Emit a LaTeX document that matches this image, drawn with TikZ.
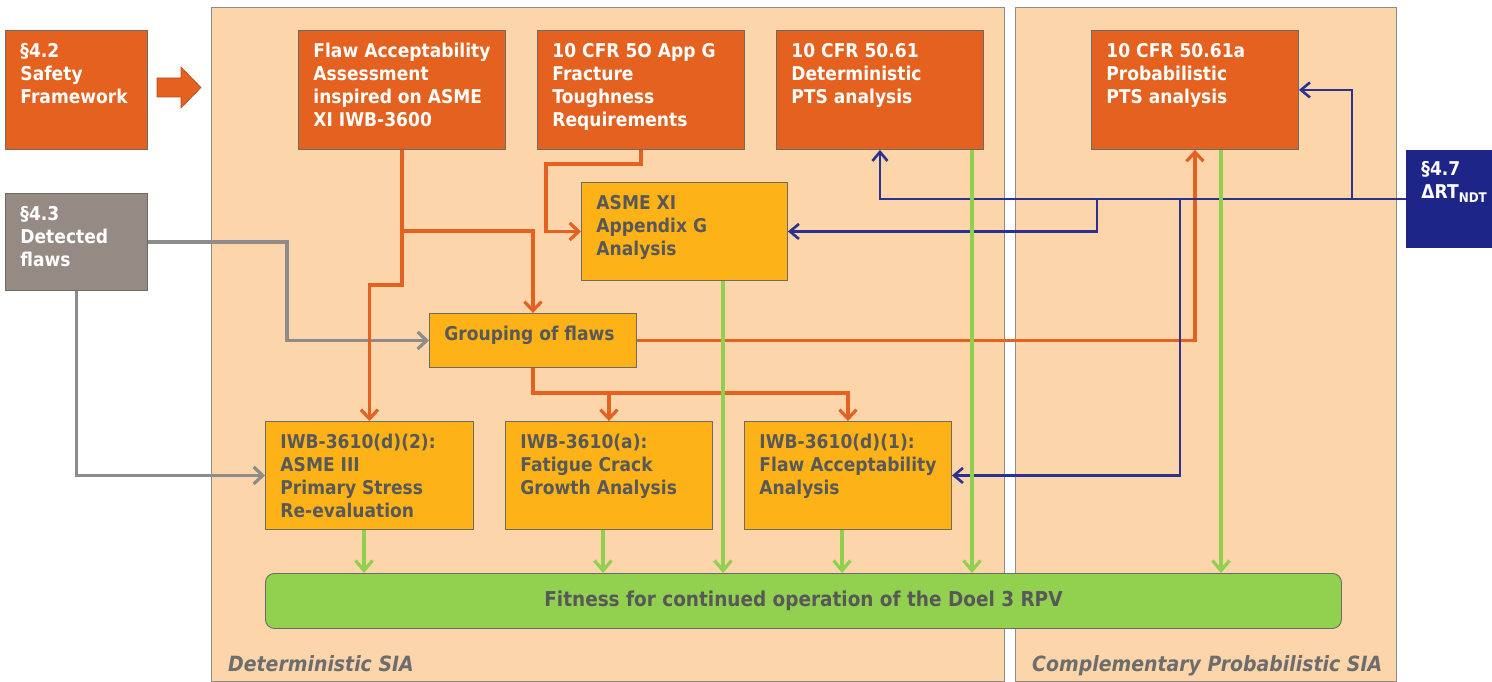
\documentclass[tikz,border=0pt]{standalone}
\usepackage{fontspec}
\setmainfont{DejaVu Sans}[FakeStretch=0.9]
\usetikzlibrary{arrows.meta}
\definecolor{peach}{HTML}{FCD5AA}
\definecolor{orng}{HTML}{E4611F}
\definecolor{yel}{HTML}{FDB317}
\definecolor{gbox}{HTML}{958B84}
\definecolor{nblue}{HTML}{1D2688}
\definecolor{lblue}{HTML}{2B3190}
\definecolor{grn}{HTML}{92D050}
\definecolor{gline}{HTML}{8FD14F}
\definecolor{bord}{HTML}{6E6A66}
\definecolor{pbord}{HTML}{8C8C8C}
\definecolor{txtd}{HTML}{585858}
\definecolor{plab}{HTML}{6D6D6D}
\definecolor{gcon}{HTML}{8E8B88}
\newcommand\bt[3]{\parbox[c][\dimexpr#2-22pt\relax][t]{\dimexpr#1-30pt\relax}{\begin{tabular}[t]{@{}l@{}}#3\end{tabular}}}
\begin{document}
\begin{tikzpicture}[x=1pt,y=-1pt,
  base/.style={draw=bord, line width=0.9pt, inner xsep=15pt, inner ysep=11pt, anchor=north west, font=\fontsize{19}{23}\selectfont\bfseries},
  ob/.style={base, fill=orng, text=white},
  yb/.style={base, fill=yel, text=txtd},
  gb/.style={base, fill=gbox, text=white},
  bb/.style={base, fill=nblue, draw=nblue, text=white, inner ysep=9pt},
  panel/.style={draw=pbord, line width=1.2pt, fill=peach, anchor=north west, inner sep=0pt},
  plabel/.style={anchor=base west, inner sep=0pt, text=plab, font=\fontsize{21}{24}\selectfont\bfseries\itshape},
  oc/.style={draw=orng, line width=3.2pt, -{Straight Barb[length=9pt,width=17pt]}},
  gc/.style={draw=gcon, line width=3.2pt, -{Straight Barb[length=9pt,width=17pt]}},
  bc/.style={draw=lblue, line width=2.6pt, -{Straight Barb[length=9pt,width=15pt]}},
  grc/.style={draw=gline, line width=3.2pt, -{Straight Barb[length=10pt,width=17pt]}}
]
\useasboundingbox (0,0) rectangle (1492,682);
% panels
\node[panel, minimum width=793pt, minimum height=674pt] (detp) at (211,7) {};
\node[panel, minimum width=381pt, minimum height=674pt] (probp) at (1015,7) {};
\node[plabel] (detl) at (228,671) {Deterministic SIA};
\node[plabel] (probl) at (1032,671) {Complementary Probabilistic SIA};
% boxes
\node[ob] (sf) at (5,30) {\bt{142pt}{119pt}{§4.2\\Safety\\Framework}};
\node[gb] (det) at (5,193) {\bt{142pt}{97pt}{§4.3\\Detected\\flaws}};
\node[ob] (flaw) at (298,30) {\bt{207pt}{119pt}{Flaw Acceptability\\Assessment\\inspired on ASME\\XI IWB-3600}};
\node[ob] (appg) at (537,30) {\bt{207pt}{119pt}{10 CFR 5O App G\\Fracture\\Toughness\\Requirements}};
\node[ob] (pts61) at (776,30) {\bt{207pt}{119pt}{10 CFR 50.61\\Deterministic\\PTS analysis}};
\node[ob] (pts61a) at (1091,30) {\bt{207pt}{119pt}{10 CFR 50.61a\\Probabilistic\\PTS analysis}};
\node[bb] (ndt) at (1406,150) {\bt{94pt}{101pt}{§4.7\\ΔRT\textsubscript{NDT}}};
\node[yb] (asme) at (581,182) {\bt{206pt}{98pt}{ASME XI\\Appendix G\\Analysis}};
\node[yb] (group) at (429,313) {\bt{207pt}{54pt}{Grouping of flaws}};
\node[yb] (d2) at (265,421) {\bt{208pt}{108pt}{IWB-3610(d)(2):\\ASME III\\Primary Stress\\Re-evaluation}};
\node[yb] (fcg) at (505,421) {\bt{207pt}{108pt}{IWB-3610(a):\\Fatigue Crack\\Growth Analysis}};
\node[yb] (d1) at (744,421) {\bt{207pt}{108pt}{IWB-3610(d)(1):\\Flaw Acceptability\\Analysis}};
\node[draw=bord, line width=0.9pt, fill=grn, rounded corners=9pt, anchor=north west, inner sep=0pt,
  minimum width=1076pt, minimum height=55pt, text=txtd, font=\fontsize{20.5}{23}\selectfont\bfseries] (fit) at (265,573)
  {Fitness for continued operation of the Doel 3 RPV};
% block arrow
\filldraw[fill=orng, draw=orng!80!black, line width=0.6pt] (157,78) -- (181,78) -- (181,67) -- (201,87.5) -- (181,108) -- (181,97) -- (157,97) -- cycle;
% helper coordinates
\coordinate (gk) at (287,0);
\coordinate (oy1) at (0,285);
\coordinate (oy2) at (0,231);
\coordinate (oy3) at (0,393);
\coordinate (ok1) at (546,164);
\coordinate (bx1) at (1352,0);
\coordinate (bx2) at (1097,0);
\coordinate (bx3) at (1180,0);
\coordinate (gx1) at (364,0);
\coordinate (gx2) at (603,0);
\coordinate (gx3) at (723,0);
\coordinate (gx4) at (842,0);
\coordinate (gx5) at (972,0);
\coordinate (gx6) at (1221,0);
% gray connectors
\draw[gc] (det.east) -| (gk |- group.west) -- (group.west);
\draw[gc] (det.south) |- (d2.west);
% orange connectors
\draw[oc] (flaw.south) -- (flaw.south |- oy1) -| (d2.north);
\draw[oc] (flaw.south |- oy2) -| (group.north);
\draw[oc] (appg.south) |- (ok1) |- (asme.west);
\draw[oc] (group.east) -| (pts61a.south);
\draw[oc] (group.south) -- (group.south |- oy3) -| (d1.north);
\draw[oc] (fcg.north |- oy3) -- (fcg.north);
% blue connectors
\draw[bc] (ndt.west) -| (pts61.south);
\draw[bc] (bx1 |- ndt.west) |- (pts61a.east);
\draw[bc] (bx2 |- ndt.west) |- (asme.east);
\draw[bc] (bx3 |- ndt.west) |- (d1.east);
% green connectors
\draw[grc] (gx1 |- d2.south) -- (gx1 |- fit.north);
\draw[grc] (gx2 |- fcg.south) -- (gx2 |- fit.north);
\draw[grc] (gx3 |- asme.south) -- (gx3 |- fit.north);
\draw[grc] (gx4 |- d1.south) -- (gx4 |- fit.north);
\draw[grc] (gx5 |- pts61.south) -- (gx5 |- fit.north);
\draw[grc] (gx6 |- pts61a.south) -- (gx6 |- fit.north);
\end{tikzpicture}
\end{document}
